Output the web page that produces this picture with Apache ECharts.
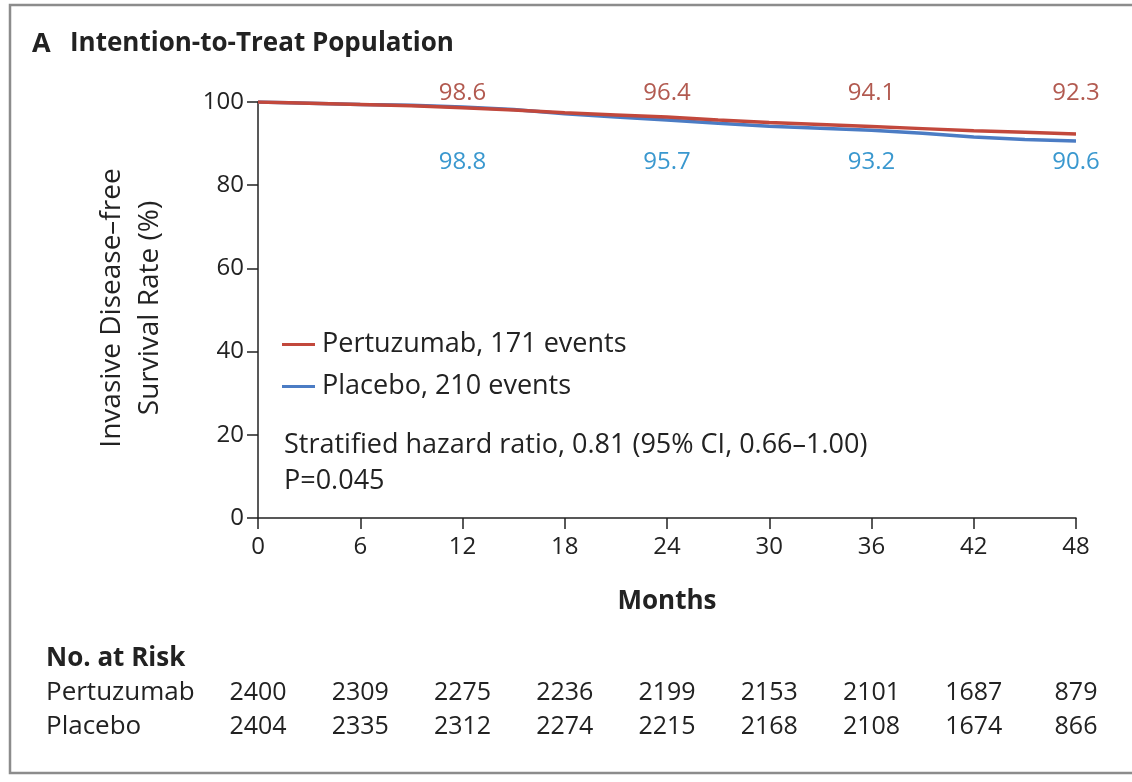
<!DOCTYPE html>
<html>
<head>
<meta charset="utf-8">
<script src="https://cdn.jsdelivr.net/npm/echarts@6/dist/echarts.min.js"></script>
<style>
  html, body { margin: 0; padding: 0; background: #ffffff; }
  #chart { width: 1132px; height: 782px; }
</style>
</head>
<body>
<div id="chart"></div>
<script>
// Kaplan–Meier estimates of invasive disease–free survival (%), by month
const months      = [0, 3, 6, 9, 12, 15, 18, 21, 24, 27, 30, 33, 36, 39, 42, 45, 48];
const pertuzumab  = [100, 99.7, 99.4, 99.1, 98.6, 98.1, 97.4, 96.9, 96.4, 95.7, 95.1, 94.6, 94.1, 93.6, 93.1, 92.7, 92.3];
const placebo     = [100, 99.7, 99.4, 99.2, 98.8, 98.2, 97.2, 96.4, 95.7, 94.9, 94.2, 93.7, 93.2, 92.5, 91.6, 91.0, 90.6];

// Months at which the rate is printed above / below the curves
const labelMonths = [12, 24, 36, 48];

// Number at risk table
const riskMonths     = [0, 6, 12, 18, 24, 30, 36, 42, 48];
const riskPertuzumab = [2400, 2309, 2275, 2236, 2199, 2153, 2101, 1687, 879];
const riskPlacebo    = [2404, 2335, 2312, 2274, 2215, 2168, 2108, 1674, 866];

const armNames    = ['Pertuzumab', 'Placebo'];
const legendNames = ['Pertuzumab, 171 events', 'Placebo, 210 events'];
const yTicks      = [0, 20, 40, 60, 80, 100];
const xTicks      = [0, 6, 12, 18, 24, 30, 36, 42, 48];

const FONT = '"Open Sans", "Noto Sans", sans-serif';
const RED_LINE = '#c2483c', BLUE_LINE = '#4b7cc4';
const RED_TEXT = '#b25a50', BLUE_TEXT = '#3a98cf';
const INK = '#222222';

const chart = echarts.init(document.getElementById('chart'), null, { renderer: 'canvas' });

const pair = (xs, ys) => xs.map((x, i) => [x, ys[i]]);

chart.setOption({
  backgroundColor: '#ffffff',
  animation: false,
  textStyle: { fontFamily: FONT },
  grid: { left: 258, right: 56, top: 102, bottom: 264 },
  xAxis: {
    type: 'value', min: 0, max: 48, interval: 6,
    axisLine: { show: true, onZero: false, lineStyle: { color: INK, width: 1.5 } },
    axisTick: { show: true, length: 11, lineStyle: { color: INK, width: 1.5 } },
    axisLabel: { fontSize: 24, color: INK, margin: 17, fontFamily: FONT,
                 formatter: v => xTicks.includes(v) ? String(v) : '' },
    splitLine: { show: false }
  },
  yAxis: {
    type: 'value', min: 0, max: 100, interval: 20,
    axisLine: { show: true, lineStyle: { color: INK, width: 1.5 } },
    axisTick: { show: true, length: 11, lineStyle: { color: INK, width: 1.5 } },
    axisLabel: { fontSize: 24, color: INK, margin: 14, fontFamily: FONT,
                 formatter: v => yTicks.includes(v) ? String(v) : '' },
    splitLine: { show: false }
  },
  legend: {
    left: 277, top: 326, orient: 'vertical', itemGap: 15,
    itemWidth: 33, itemHeight: 3, icon: 'rect',
    textStyle: { fontSize: 27, color: INK, fontFamily: FONT, padding: [0, 0, 0, 2] },
    data: legendNames
  },
  series: [
    {
      name: legendNames[1], type: 'line', data: pair(months, placebo),
      showSymbol: false, lineStyle: { color: BLUE_LINE, width: 3.5 },
      itemStyle: { color: BLUE_LINE }, z: 2
    },
    {
      name: legendNames[0], type: 'line', data: pair(months, pertuzumab),
      showSymbol: false, lineStyle: { color: RED_LINE, width: 3.5 },
      itemStyle: { color: RED_LINE }, z: 3
    }
  ]
});

// Annotations positioned through the axis scales
const px = m => chart.convertToPixel({ xAxisIndex: 0 }, m);
const graphics = [];
const text = (x, y, str, style) => graphics.push({
  type: 'text', x, y, silent: true,
  style: Object.assign({ text: str, fill: INK, font: '27px ' + FONT, textAlign: 'left', textVerticalAlign: 'middle' }, style)
});

// Frame
graphics.push({ type: 'polyline', silent: true,
  shape: { points: [[1140, 5], [10, 5], [10, 773], [1140, 773]] },
  style: { stroke: '#8c8c8c', lineWidth: 2.5, fill: null } });

// Panel title
text(32, 44, 'A', { font: 'bold 27px ' + FONT });
text(70, 44, 'Intention-to-Treat Population', { font: 'bold 26px ' + FONT });

// Y-axis title (two lines, rotated)
graphics.push({
  type: 'text', x: 131, y: 308, rotation: Math.PI / 2, silent: true,
  style: { text: 'Invasive Disease\u2013free\nSurvival Rate (%)', fill: INK, font: '28px ' + FONT,
           textAlign: 'center', textVerticalAlign: 'middle', lineHeight: 38 }
});

// X-axis title
text(667, 602, 'Months', { font: 'bold 26px ' + FONT, textAlign: 'center' });

// Rates at landmark months
labelMonths.forEach(m => {
  const i = months.indexOf(m);
  text(px(m), 93, pertuzumab[i].toFixed(1), { fill: RED_TEXT, textAlign: 'center', font: '24px ' + FONT });
  text(px(m), 162, placebo[i].toFixed(1), { fill: BLUE_TEXT, textAlign: 'center', font: '24px ' + FONT });
});

// Hazard ratio
text(284, 445, 'Stratified hazard ratio, 0.81 (95% CI, 0.66\u20131.00)', {});
text(284, 481, 'P=0.045', {});

// Number at risk
text(46, 659, 'No. at Risk', { font: 'bold 26px ' + FONT });
text(46, 693, armNames[0], { font: '26px ' + FONT });
text(46, 727, armNames[1], { font: '26px ' + FONT });
riskMonths.forEach((m, i) => {
  text(px(m), 693, String(riskPertuzumab[i]), { textAlign: 'center', font: '25px ' + FONT });
  text(px(m), 727, String(riskPlacebo[i]), { textAlign: 'center', font: '25px ' + FONT });
});

chart.setOption({ graphic: graphics });
</script>
</body>
</html>
